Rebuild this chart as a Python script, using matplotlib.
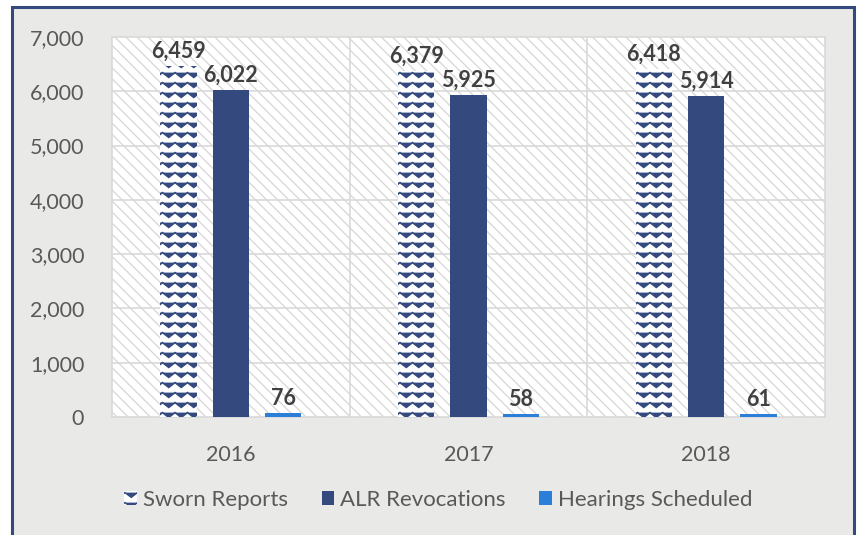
import warnings
import numpy as np
import matplotlib

matplotlib.use("Agg")
import matplotlib.pyplot as plt
import matplotlib.hatch as mhatch
from matplotlib.path import Path
from matplotlib.patches import Rectangle

warnings.filterwarnings("ignore")

# ---- data -------------------------------------------------------------------
years = ["2016", "2017", "2018"]
sworn_reports = [6459, 6379, 6418]
alr_revocations = [6022, 5925, 5914]
hearings_scheduled = [76, 58, 61]
y_ticks = [0, 1000, 2000, 3000, 4000, 5000, 6000, 7000]

# ---- palette ----------------------------------------------------------------
NAVY = "#344a7e"
BLUE = "#2b7fd8"
GRID = "#d9d9d9"
TICK = "#595959"
LABEL = "#404040"
PAPER = "#e9e9e7"

plt.rcParams.update({
    "font.family": ["Lato", "DejaVu Sans"],
    "font.size": 15.5,
})


# zig-zag fill, like the office "zig zag" pattern on the sworn bars
class ZigZagHatch(mhatch.HatchPatternBase):
    ROWS = 10
    CYCLES = 8
    AMP = 0.024

    def __init__(self, hatch, density):
        self.rows = self.ROWS * hatch.count("z")
        self.num_vertices = self.rows * (2 * self.CYCLES + 1)

    def set_vertices_and_codes(self, vertices, codes):
        n = 2 * self.CYCLES + 1
        xs = np.linspace(0.0, 1.0, n)
        ys = np.where(np.arange(n) % 2 == 0, self.AMP, -self.AMP)
        for r in range(self.rows):
            y0 = (r + 0.5) / self.rows
            vertices[r * n:(r + 1) * n, 0] = xs
            vertices[r * n:(r + 1) * n, 1] = y0 + ys
            codes[r * n] = Path.MOVETO
            codes[r * n + 1:(r + 1) * n] = Path.LINETO


mhatch._hatch_types.append(ZigZagHatch)

fig = plt.figure(figsize=(8.59, 5.35), dpi=100, facecolor="white")

# grey card with navy frame behind the chart
W, H = 859, 535
card = Rectangle((12 / W, -0.02), (854 - 12) / W, 1.02 - 7 / H,
                 transform=fig.transFigure, facecolor=PAPER,
                 edgecolor=NAVY, lw=2.2, zorder=-5)
fig.patches.append(card)

ax = fig.add_axes([112 / W, 1 - 417 / H, (825 - 112) / W, (417 - 37) / H])
ax.set_facecolor("white")

# faint diagonal hatch over the plot area
bg = Rectangle((0, 0), 1, 1, transform=ax.transAxes, facecolor="white",
               edgecolor="#d6d6d6", hatch="\\\\\\", lw=0, zorder=0)
bg.set_hatch_linewidth(0.9)
ax.add_patch(bg)

x = np.arange(len(years))
off = 0.22
bw = 0.152

b1 = ax.bar(x - off, sworn_reports, bw, facecolor="white", edgecolor=NAVY,
            lw=0, hatch="z", zorder=3, label="Sworn Reports")
for p in b1:
    p.set_hatch_linewidth(1.2)
b2 = ax.bar(x, alr_revocations, bw, color=NAVY, zorder=3,
            label="ALR Revocations")
b3 = ax.bar(x + off, hearings_scheduled, bw, color=BLUE, zorder=3,
            label="Hearings Scheduled")

for bars, vals in ((b1, sworn_reports), (b2, alr_revocations),
                   (b3, hearings_scheduled)):
    for p, v in zip(bars, vals):
        ax.annotate(f"{v:,}", (p.get_x() + p.get_width() / 2, v),
                    xytext=(0, 3), textcoords="offset points", ha="center",
                    va="bottom", fontsize=15.5, fontweight="bold",
                    color=LABEL, zorder=5)

ax.set_xlim(-0.5, 2.5)
ax.set_ylim(0, 7000)
ax.set_yticks(y_ticks)
ax.set_yticklabels([f"{t:,}" for t in y_ticks])
ax.set_xticks(x)
ax.set_xticklabels(years)
ax.tick_params(length=0, colors=TICK, labelsize=15.5)
ax.tick_params(axis="y", pad=20)
ax.tick_params(axis="x", pad=20)

for t in y_ticks[1:-1]:
    ax.axhline(t, color=GRID, lw=1.2, zorder=1)
for xv in (0.5, 1.5):
    ax.axvline(xv, color=GRID, lw=1.2, zorder=1)
for s in ax.spines.values():
    s.set_color(GRID)
    s.set_linewidth(1.2)

leg = fig.legend(handles=[b1, b2, b3], loc="center",
                 bbox_to_anchor=(0.5 + 9 / W, 1 - 500 / H), ncol=3,
                 frameon=False, handlelength=0.55, handleheight=0.55,
                 handletextpad=0.3, columnspacing=1.5, fontsize=16)
for t in leg.get_texts():
    t.set_color(TICK)

fig.savefig("out.png", dpi=100, facecolor="white")
